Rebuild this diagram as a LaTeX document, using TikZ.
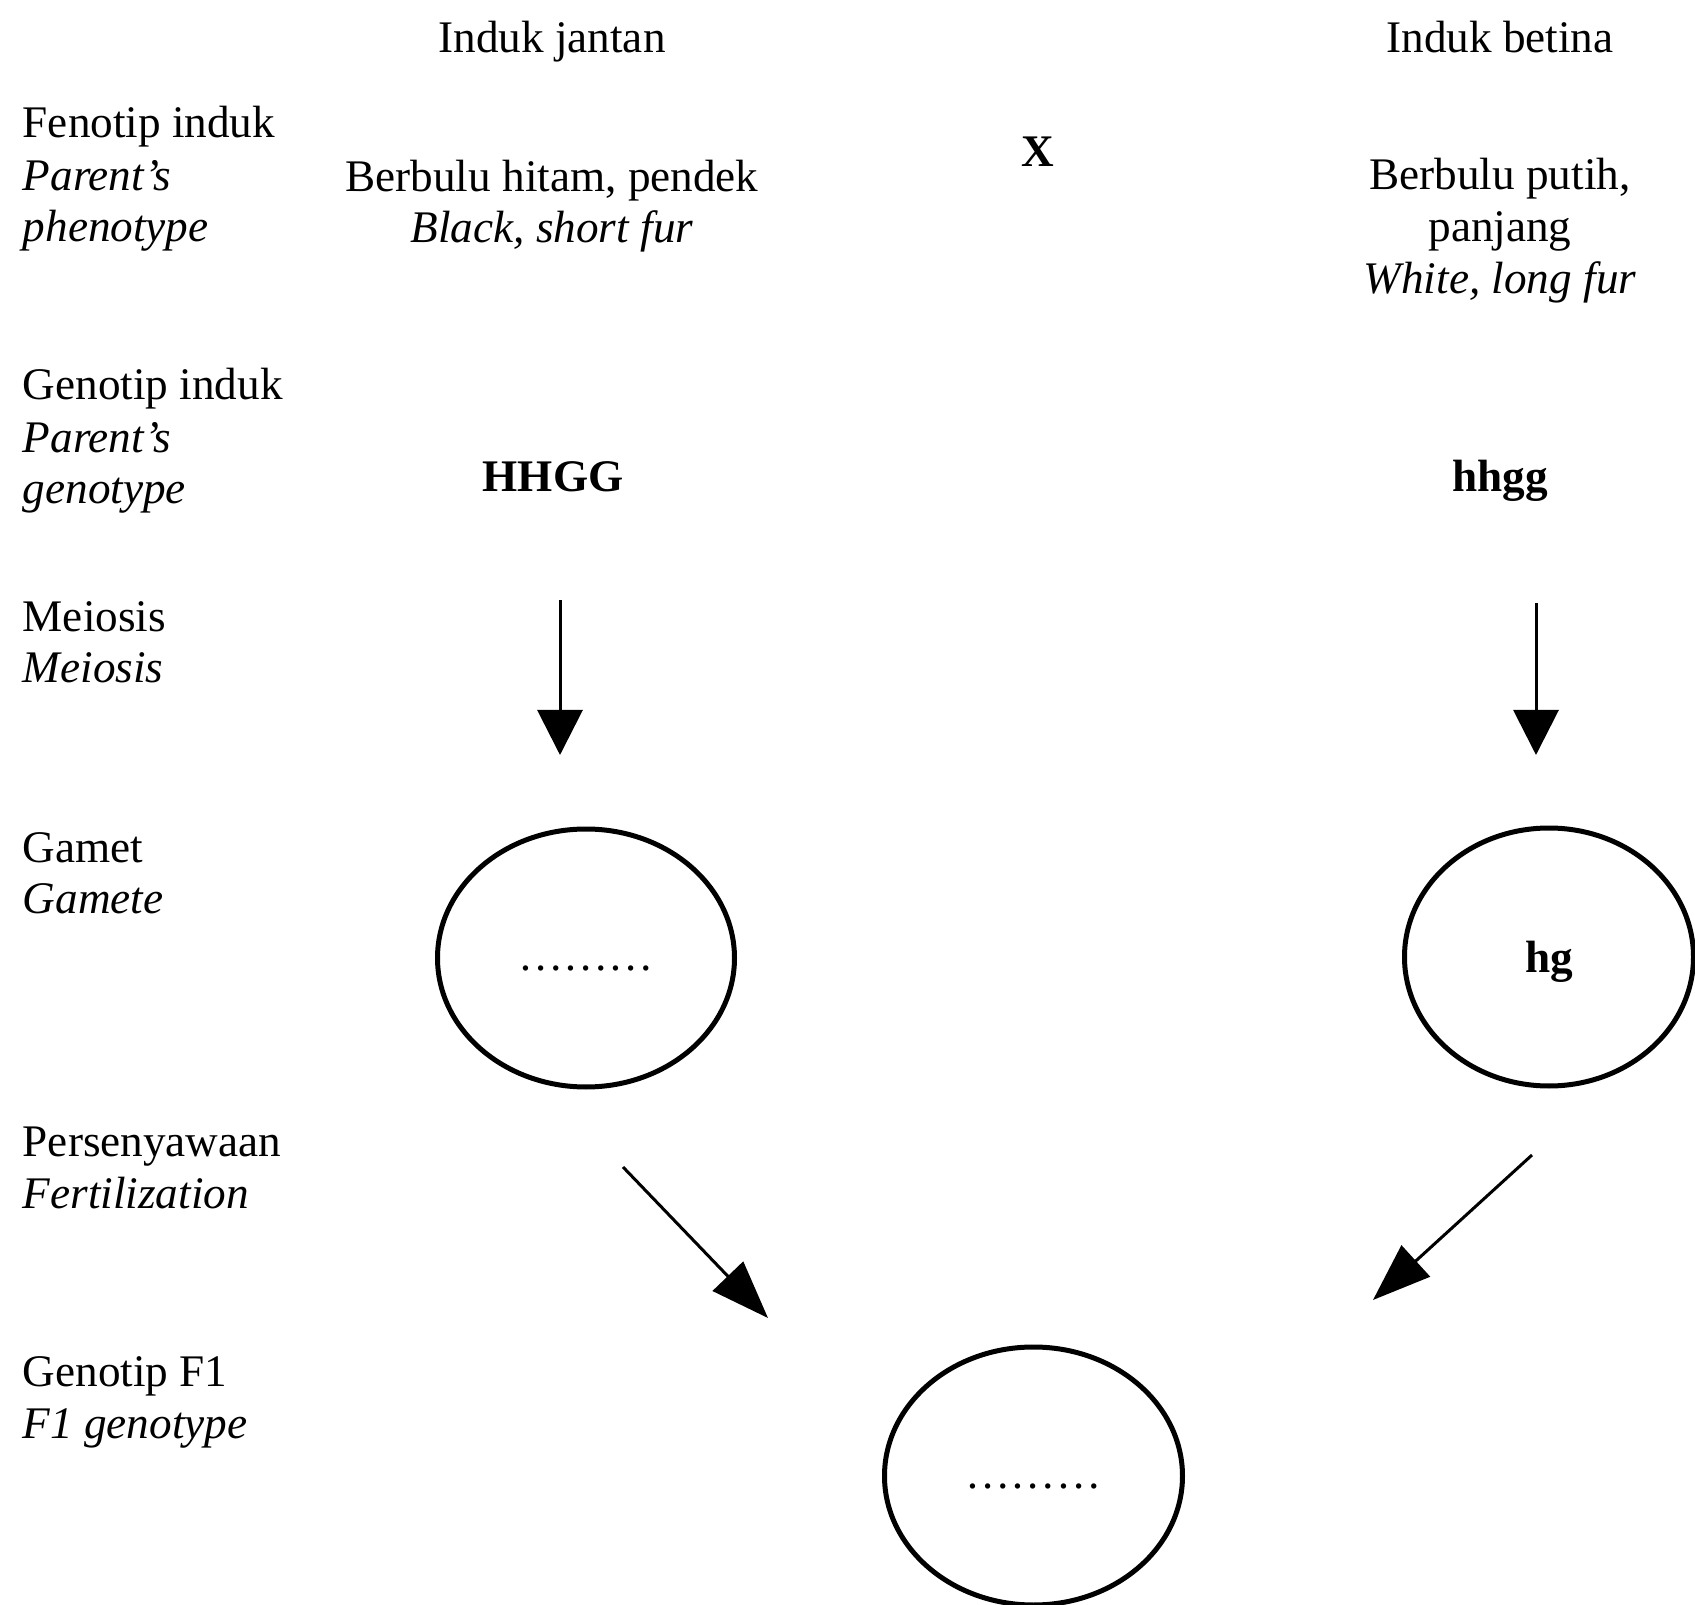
\documentclass[tikz,border=0pt]{standalone}
\usepackage{fontspec}
\setmainfont{Liberation Serif}
\usetikzlibrary{arrows.meta,shapes.geometric}

\begin{document}
\begin{tikzpicture}[x=0.25pt, y=-0.25pt,
  every node/.style={font=\fontsize{11.3}{13}\selectfont, inner sep=0pt},
  rowlabel/.style={anchor=base west, align=left},
  parenttext/.style={anchor=base, align=center},
  gamcircle/.style={draw, ellipse, line width=1.25pt, minimum height=64.5pt},
  meiarrow/.style={line width=0.75pt, -{Triangle[length=11.25pt, width=11.25pt]}},
  fertarrow/.style={line width=0.75pt, -{Triangle[length=14.5pt, width=10.5pt]}}]
  \useasboundingbox (0,0) rectangle (1695,1605);
  % Row labels (base = last line)
  \node[rowlabel] (lblfeno) at (22,242) {Fenotip induk\\\textit{Parent’s}\\\textit{phenotype}};
  \node[rowlabel] (lblgeno) at (22,504) {Genotip induk\\\textit{Parent’s}\\\textit{genotype}};
  \node[rowlabel] (lblmeio) at (22,683) {Meiosis\\\textit{Meiosis}};
  \node[rowlabel] (lblgamet) at (22,914) {Gamet\\\textit{Gamete}};
  \node[rowlabel] (lblfert) at (22,1208) {Persenyawaan\\\textit{Fertilization}};
  \node[rowlabel] (lblfone) at (22,1438) {Genotip F1\\\textit{F1 genotype}};
  % Parents
  \node[parenttext] (male) at (552,53) {Induk jantan};
  \node[parenttext] (female) at (1500,53) {Induk betina};
  \node[parenttext] (malefeno) at (552,243) {Berbulu hitam, pendek\\\textit{Black, short fur}};
  \node[parenttext] (femalefeno) at (1500,294) {Berbulu putih,\\panjang\\\textit{White, long fur}};
  \node[parenttext, font=\fontsize{11.3}{13}\selectfont\bfseries] (cross) at (1038,167) {X};
  \node[parenttext, font=\fontsize{11.3}{13}\selectfont\bfseries] (malegeno) at (553,492) {HHGG};
  \node[parenttext, font=\fontsize{11.3}{13}\selectfont\bfseries] (femalegeno) at (1500,492) {hhgg};
  % Gametes and F1
  \node[gamcircle, minimum width=74.25pt, text height=6pt, text depth=0pt] (malegam) at (586,958) {………};
  \node[gamcircle, minimum width=72.25pt, text height=8pt, text depth=0pt, font=\fontsize{11.3}{13}\selectfont\bfseries] (femalegam) at (1549,957) {hg};
  \node[gamcircle, minimum width=74.5pt, text height=6pt, text depth=0pt] (fone) at (1033.5,1476) {………};
  % Arrow ends
  \coordinate (meiLa) at (560,600);
  \coordinate (meiLb) at (560,755);
  \coordinate (meiRa) at (1536,603);
  \coordinate (meiRb) at (1536,755);
  \coordinate (fertLa) at (623,1167);
  \coordinate (fertLb) at (768,1318);
  \coordinate (fertRa) at (1532,1155);
  \coordinate (fertRb) at (1373,1300);
  % Connections
  \draw[meiarrow] (meiLa) -- (meiLb);
  \draw[meiarrow] (meiRa) -- (meiRb);
  \draw[fertarrow] (fertLa) -- (fertLb);
  \draw[fertarrow] (fertRa) -- (fertRb);
\end{tikzpicture}
\end{document}
